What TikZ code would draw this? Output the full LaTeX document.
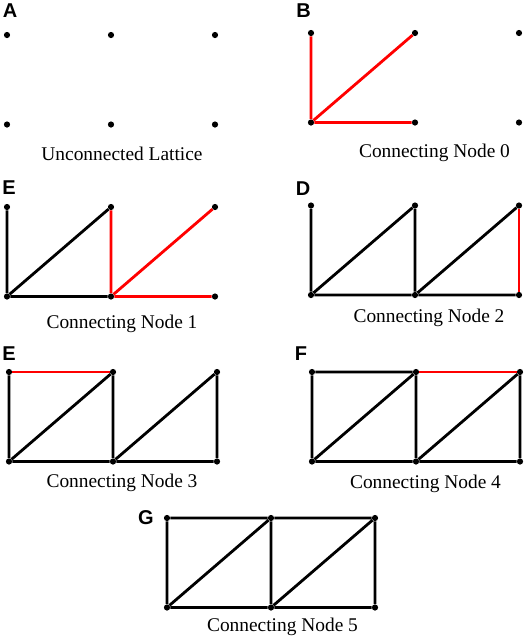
\documentclass[tikz,border=0pt]{standalone}
\usepackage{fontspec}
\setmainfont{Liberation Serif}
\newfontfamily\panelfont{Liberation Sans}
\usepackage{tikz}
\usetikzlibrary{positioning}
\definecolor{bondred}{RGB}{255,0,0}
% six lattice points: #1 = name prefix, (#2,#3) = top left point
\newcommand{\lattice}[3]{%
  \foreach \i/\dx/\dy in {1/0/0, 2/104/0, 3/208/0, 4/0/89.5, 5/104/89.5, 6/208/89.5}
    \node[lnode] (#1\i) at (#2+\dx, #3+\dy) {};
}
\tikzset{
  lnode/.style={circle, fill=black, inner sep=0pt, minimum size=6.2pt},
  bond/.style={black, line width=2.8pt},
  newbond/.style={bondred, line width=2.8pt},
  plab/.style={font=\panelfont\bfseries\fontsize{20}{20}\selectfont, inner sep=0pt},
  capt/.style={font=\fontsize{19.4}{20}\selectfont, anchor=base, inner sep=0pt},
}

\begin{document}
\begin{tikzpicture}[x=1pt, y=-1pt]
  \useasboundingbox (0,0) rectangle (526,638);
  % A
  \node[plab] (labA) at (10,11) {A};
  \lattice{a}{7}{35}
  \node[capt] (capA) at (122,160) {Unconnected Lattice};
  % B
  \node[plab] (labB) at (303.5,11) {B};
  \lattice{b}{311}{33}
  \draw[newbond] (b4) -- (b1) (b4) -- (b2) (b4) -- (b5);
  \node[capt] (capB) at (434.5,157) {Connecting Node 0};
  % second row, left
  \node[plab] (labC) at (9,188) {E};
  \lattice{c}{7}{207}
  \draw[bond] (c4) -- (c1) (c4) -- (c2) (c4) -- (c5);
  \draw[newbond] (c5) -- (c2) (c5) -- (c3) (c5) -- (c6);
  \node[capt] (capC) at (122,328) {Connecting Node 1};
  % D
  \node[plab] (labD) at (303,188.5) {D};
  \lattice{d}{311}{205.5}
  \draw[bond] (d4) -- (d1) (d4) -- (d2) (d4) -- (d5);
  \draw[bond] (d5) -- (d2) (d5) -- (d3) (d5) -- (d6);
  \draw[newbond] (d6) -- (d3);
  \node[capt] (capD) at (429,322) {Connecting Node 2};
  % third row, left
  \node[plab] (labE) at (9,353.5) {E};
  \lattice{e}{9}{372}
  \draw[bond] (e4) -- (e1) (e4) -- (e2) (e4) -- (e5);
  \draw[bond] (e5) -- (e2) (e5) -- (e3) (e5) -- (e6) (e6) -- (e3);
  \draw[newbond] (e1) -- (e2);
  \node[capt] (capE) at (122,487) {Connecting Node 3};
  % F
  \node[plab] (labF) at (301,354) {F};
  \lattice{f}{312}{372}
  \draw[bond] (f4) -- (f1) (f4) -- (f2) (f4) -- (f5) (f1) -- (f2);
  \draw[bond] (f5) -- (f2) (f5) -- (f3) (f5) -- (f6) (f6) -- (f3);
  \draw[newbond] (f2) -- (f3);
  \node[capt] (capF) at (425.5,488) {Connecting Node 4};
  % G
  \node[plab] (labG) at (146,518) {G};
  \lattice{g}{167}{518}
  \draw[bond] (g4) -- (g1) (g4) -- (g2) (g4) -- (g5) (g1) -- (g2);
  \draw[bond] (g5) -- (g2) (g5) -- (g3) (g5) -- (g6) (g6) -- (g3) (g2) -- (g3);
  \node[capt] (capG) at (282.5,631) {Connecting Node 5};
\end{tikzpicture}
\end{document}
